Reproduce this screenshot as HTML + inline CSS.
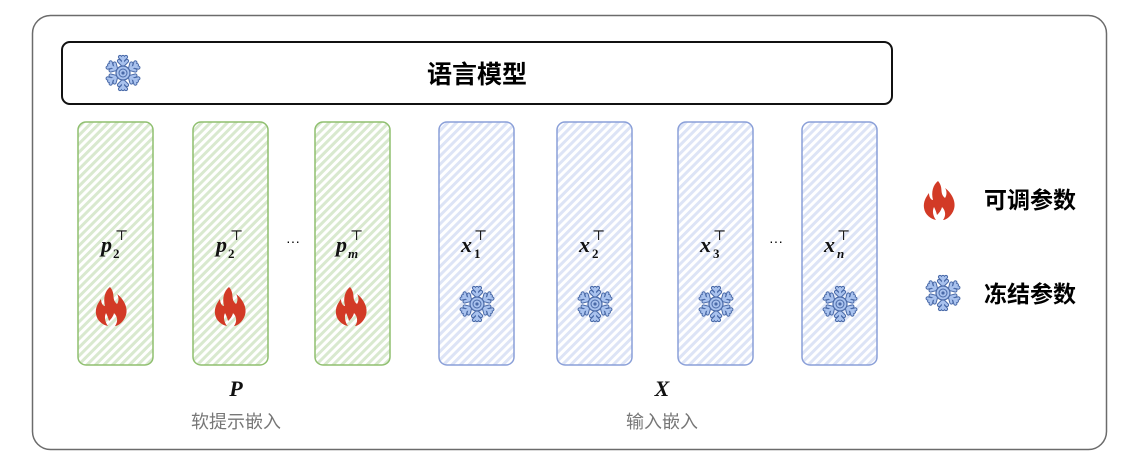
<!DOCTYPE html>
<html><head><meta charset="utf-8"><style>
html,body{margin:0;padding:0;background:#fff;width:1123px;height:466px;overflow:hidden}
svg{display:block}
.cjk{font-family:"Liberation Sans","Noto Sans CJK SC",sans-serif}
.m{font-family:"Liberation Serif","DejaVu Serif",serif;font-style:italic;font-weight:bold}
</style></head><body>
<svg width="1123" height="466" viewBox="0 0 1123 466" xmlns="http://www.w3.org/2000/svg">
<defs>
<pattern id="hg" patternUnits="userSpaceOnUse" width="6" height="6" patternTransform="rotate(45)">
<rect width="6" height="6" fill="#fff"/><rect width="3" height="6" fill="#d9e9cf"/></pattern>
<pattern id="hb" patternUnits="userSpaceOnUse" width="6" height="6" patternTransform="rotate(45)">
<rect width="6" height="6" fill="#fff"/><rect width="3" height="6" fill="#dde4f6"/></pattern>
<g id="arm">
<path d="M0,0 L0,-16 M0,-8 L-4,-12 M0,-8 L4,-12 M0,-13 L-3,-16 M0,-13 L3,-16" stroke="#4a6aa8" stroke-width="4.2" stroke-linecap="round" fill="none"/>
<path d="M0,0 L0,-16 M0,-8 L-4,-12 M0,-8 L4,-12 M0,-13 L-3,-16 M0,-13 L3,-16" stroke="#a9c2ee" stroke-width="2.2" stroke-linecap="round" fill="none"/>
</g>
<g id="snow">
<use href="#arm"/><use href="#arm" transform="rotate(60)"/><use href="#arm" transform="rotate(120)"/>
<use href="#arm" transform="rotate(180)"/><use href="#arm" transform="rotate(240)"/><use href="#arm" transform="rotate(300)"/>
<circle r="7" fill="#a9c2ee" stroke="#4a6aa8" stroke-width="1.2"/>
<circle r="4" fill="none" stroke="#4a6aa8" stroke-width="1"/>
<circle r="1.6" fill="#4a6aa8"/>
</g>
<path id="fire" fill="#d23a26" d="M-2,-19 C4,-12 -1,-7 5,-2 C7,-5 7,-9 5,-12 C13,-6 16,3 14,9 C12,16 6,20 3,20 C6,16 6,11 2,7 C1,11 -1,13 -3,15 C-4,11 -5,9 -6,7 C-8,11 -7,16 -4,20 C-9,19 -15,15 -16,8 C-17,2 -14,-3 -11,-7 C-11,-3 -9,0 -7,0 C-9,-8 -7,-15 -2,-19 Z"/>
</defs>
<rect x="32.5" y="15.5" width="1074" height="434" rx="18" fill="#fff" stroke="#6b6b6b" stroke-width="1.5"/>
<rect x="62" y="42" width="830" height="62" rx="8" fill="#fff" stroke="#111" stroke-width="2"/>
<use href="#snow" transform="translate(123,73)"/>
<text x="477" y="83" class="cjk" font-size="25" font-weight="bold" text-anchor="middle" fill="#000">语言模型</text>

<g stroke="#8fbf6f" stroke-width="1.5">
<rect x="78" y="122" width="75" height="243" rx="8" fill="url(#hg)"/>
<rect x="193" y="122" width="75" height="243" rx="8" fill="url(#hg)"/>
<rect x="315" y="122" width="75" height="243" rx="8" fill="url(#hg)"/>
</g>
<g stroke="#8a9fd8" stroke-width="1.5">
<rect x="439" y="122" width="75" height="243" rx="8" fill="url(#hb)"/>
<rect x="557" y="122" width="75" height="243" rx="8" fill="url(#hb)"/>
<rect x="678" y="122" width="75" height="243" rx="8" fill="url(#hb)"/>
<rect x="802" y="122" width="75" height="243" rx="8" fill="url(#hb)"/>
</g>

<g class="m" font-size="22" fill="#111">
<text x="101" y="252">p</text><text x="113" y="258" font-size="13" font-style="normal">2</text><text x="115" y="240" font-size="14" font-style="normal" font-weight="normal">⊤</text>
<text x="216" y="252">p</text><text x="228" y="258" font-size="13" font-style="normal">2</text><text x="230" y="240" font-size="14" font-style="normal" font-weight="normal">⊤</text>
<text x="336" y="252">p</text><text x="348" y="258" font-size="13">m</text><text x="350" y="240" font-size="14" font-style="normal" font-weight="normal">⊤</text>
<text x="461" y="252">x</text><text x="474" y="258" font-size="13" font-style="normal">1</text><text x="474" y="240" font-size="14" font-style="normal" font-weight="normal">⊤</text>
<text x="579" y="252">x</text><text x="592" y="258" font-size="13" font-style="normal">2</text><text x="592" y="240" font-size="14" font-style="normal" font-weight="normal">⊤</text>
<text x="700" y="252">x</text><text x="713" y="258" font-size="13" font-style="normal">3</text><text x="713" y="240" font-size="14" font-style="normal" font-weight="normal">⊤</text>
<text x="824" y="252">x</text><text x="837" y="258" font-size="13">n</text><text x="837" y="240" font-size="14" font-style="normal" font-weight="normal">⊤</text>
</g>
<text x="293" y="246" font-family="Liberation Sans" font-size="14" text-anchor="middle">···</text>
<text x="776" y="246" font-family="Liberation Sans" font-size="14" text-anchor="middle">···</text>

<use href="#fire" transform="translate(112,306)"/>
<use href="#fire" transform="translate(231,306)"/>
<use href="#fire" transform="translate(352,306)"/>
<use href="#snow" transform="translate(477,304)"/>
<use href="#snow" transform="translate(595,304)"/>
<use href="#snow" transform="translate(716,304)"/>
<use href="#snow" transform="translate(840,304)"/>

<text x="236" y="396" class="m" font-size="22" text-anchor="middle" fill="#111">P</text>
<text x="236" y="428" class="cjk" font-size="18" text-anchor="middle" fill="#777">软提示嵌入</text>
<text x="662" y="396" class="m" font-size="22" text-anchor="middle" fill="#111">X</text>
<text x="662" y="428" class="cjk" font-size="18" text-anchor="middle" fill="#777">输入嵌入</text>

<use href="#fire" transform="translate(940,200)"/>
<text x="984" y="208" class="cjk" font-size="23" font-weight="bold" fill="#000">可调参数</text>
<use href="#snow" transform="translate(943,293)"/>
<text x="984" y="302" class="cjk" font-size="23" font-weight="bold" fill="#000">冻结参数</text>
</svg>
</body></html>
